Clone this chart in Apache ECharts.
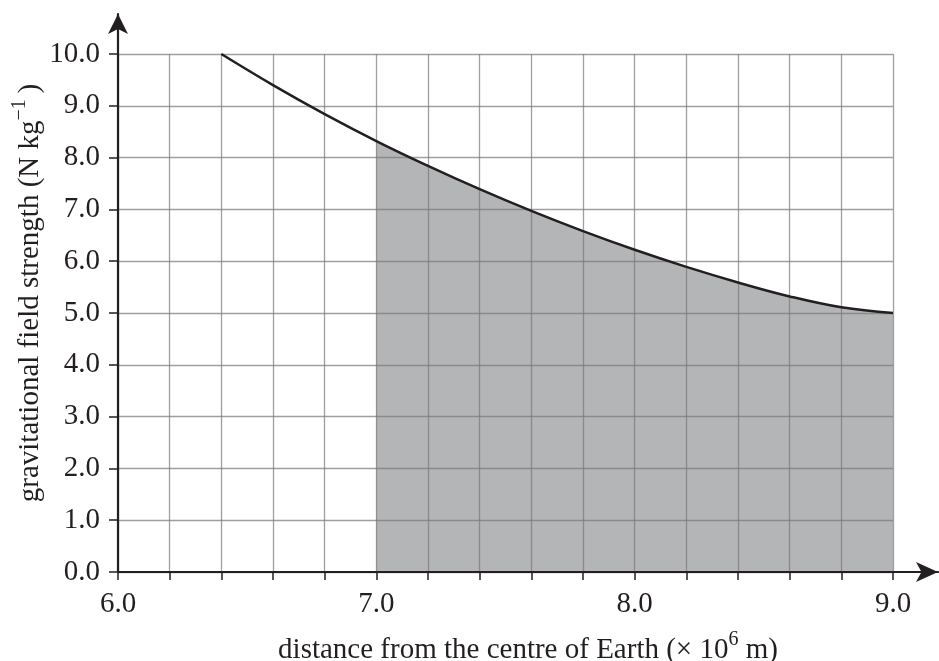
<!DOCTYPE html>
<html>
<head>
<meta charset="utf-8">
<script src="https://cdn.jsdelivr.net/npm/echarts@6/dist/echarts.min.js"></script>
<style>html,body{margin:0;padding:0;background:#fff;}#c{width:939px;height:661px;}</style>
</head>
<body>
<div id="c"></div>
<script>
// distance from centre of Earth (x 10^6 m)
var distances = [6.4, 6.6, 6.8, 7.0, 7.2, 7.4, 7.6, 7.8, 8.0, 8.2, 8.4, 8.6, 8.8, 9.0];
// gravitational field strength (N kg^-1)
var fieldStrength = [10.0, 9.40, 8.84, 8.32, 7.84, 7.39, 6.97, 6.58, 6.22, 5.89, 5.59, 5.32, 5.11, 5.00];
// shaded region start
var shadeFrom = 7.0;
var xTickLabels = ['6.0', '7.0', '8.0', '9.0'];
var yTickLabels = ['0.0','1.0','2.0','3.0','4.0','5.0','6.0','7.0','8.0','9.0','10.0'];

var curveData = distances.map(function (d, i) { return [d, fieldStrength[i]]; });
var shadeData = curveData.filter(function (p) { return p[0] >= shadeFrom - 1e-9; });

var FONT = 'Liberation Serif';
var TXT = '#231f20';

var chart = echarts.init(document.getElementById('c'), null, { renderer: 'canvas' });
chart.setOption({
  animation: false,
  backgroundColor: '#ffffff',
  grid: [
    { left: 118, right: 46, top: 54, bottom: 89, outerBoundsMode: 'none', containLabel: false },
    { left: 118, right: 1, top: 14, bottom: 89, outerBoundsMode: 'none', containLabel: false }
  ],
  xAxis: [
    {
      type: 'value', gridIndex: 0, min: 6.0, max: 9.0, interval: 0.2, z: 3,
      axisLine: { show: false },
      axisTick: { show: true, length: 8, lineStyle: { color: TXT, width: 1.5 } },
      splitLine: { show: true, lineStyle: { color: 'rgba(120,120,120,0.7)', width: 1.3 } },
      axisLabel: {
        show: true, margin: 18, fontFamily: FONT, fontSize: 29, color: TXT,
        showMinLabel: true, showMaxLabel: true,
        formatter: function (v) {
          var r = Math.round(v);
          if (Math.abs(v - r) < 1e-6) {
            var s = r.toFixed(1);
            return xTickLabels.indexOf(s) >= 0 ? s : '';
          }
          return '';
        }
      }
    },
    {
      type: 'value', gridIndex: 1, min: 6.0, max: 9.174, z: 4,
      axisLine: { show: true, onZero: false, symbol: ['none', 'arrow'], symbolSize: [15, 22], lineStyle: { color: TXT, width: 2.2 } },
      axisTick: { show: false }, axisLabel: { show: false }, splitLine: { show: false },
      name: 'distance from the centre of Earth (× 10{sup|6} m)',
      nameLocation: 'middle', nameGap: 58,
      nameTextStyle: {
        fontFamily: FONT, fontSize: 29, color: TXT, lineHeight: 40,
        rich: { sup: { fontFamily: FONT, fontSize: 20, color: TXT, verticalAlign: 'top', lineHeight: 20 } }
      }
    }
  ],
  yAxis: [
    {
      type: 'value', gridIndex: 0, min: 0, max: 10, interval: 1, z: 3,
      axisLine: { show: false },
      axisTick: { show: true, length: 9, lineStyle: { color: TXT, width: 1.5 } },
      splitLine: { show: true, lineStyle: { color: 'rgba(120,120,120,0.7)', width: 1.3 } },
      axisLabel: {
        show: true, margin: 18, fontFamily: FONT, fontSize: 29, color: TXT,
        showMinLabel: true, showMaxLabel: true,
        formatter: function (v) { return yTickLabels[Math.round(v)] || ''; }
      }
    },
    {
      type: 'value', gridIndex: 1, min: 0, max: 10.772, z: 4,
      axisLine: { show: true, onZero: false, symbol: ['none', 'arrow'], symbolSize: [15, 20], lineStyle: { color: TXT, width: 2.2 } },
      axisTick: { show: false }, axisLabel: { show: false }, splitLine: { show: false },
      name: 'gravitational field strength (N kg{sup|−1}\u2009)',
      nameLocation: 'middle', nameGap: 68,
      nameTextStyle: {
        fontFamily: FONT, fontSize: 29, color: TXT, lineHeight: 40,
        rich: { sup: { fontFamily: FONT, fontSize: 20, color: TXT, verticalAlign: 'top', lineHeight: 20 } }
      }
    }
  ],
  series: [
    {
      type: 'line', xAxisIndex: 0, yAxisIndex: 0, data: shadeData, smooth: 0.4,
      symbol: 'none', z: 1, silent: true,
      lineStyle: { width: 0, opacity: 0 },
      areaStyle: { color: '#b4b5b7', opacity: 1 }
    },
    {
      type: 'line', xAxisIndex: 0, yAxisIndex: 0, data: curveData, smooth: 0.4,
      symbol: 'none', z: 5, silent: true,
      lineStyle: { color: TXT, width: 2.5 }
    }
  ]
});
</script>
</body>
</html>
